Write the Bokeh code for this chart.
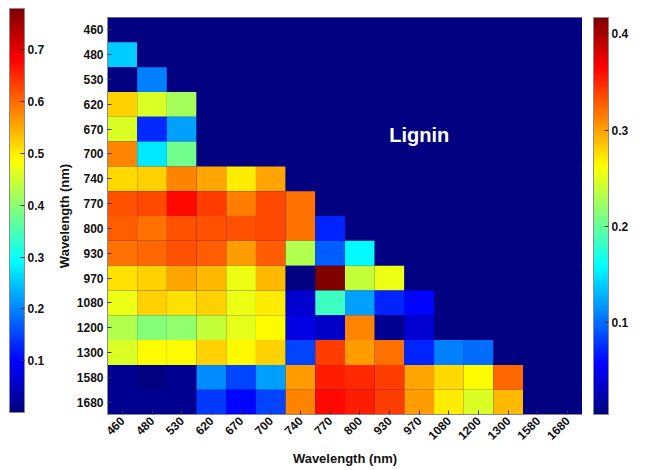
import math
from bokeh.plotting import figure
from bokeh.layouts import row
from bokeh.models import (ColorBar, LinearColorMapper, FixedTicker, FactorRange,
                          ColumnDataSource)
from bokeh.transform import transform
from bokeh.embed import file_html
from bokeh.resources import INLINE
from bokeh.core.properties import value

# ---- data ----
wavelengths = ["460", "480", "530", "620", "670", "700", "740", "770",
               "800", "930", "970", "1080", "1200", "1300", "1580", "1680"]

row_460 = [0, 0, 0, 0, 0, 0, 0, 0, 0, 0, 0, 0, 0, 0, 0, 0]
row_480 = [0.139, 0, 0, 0, 0, 0, 0, 0, 0, 0, 0, 0, 0, 0, 0, 0]
row_530 = [0, 0.109, 0, 0, 0, 0, 0, 0, 0, 0, 0, 0, 0, 0, 0, 0]
row_620 = [0.281, 0.248, 0.227, 0, 0, 0, 0, 0, 0, 0, 0, 0, 0, 0, 0, 0]
row_670 = [0.248, 0.074, 0.122, 0, 0, 0, 0, 0, 0, 0, 0, 0, 0, 0, 0, 0]
row_700 = [0.311, 0.151, 0.206, 0, 0, 0, 0, 0, 0, 0, 0, 0, 0, 0, 0, 0]
row_740 = [0.277, 0.281, 0.311, 0.298, 0.269, 0.298, 0, 0, 0, 0, 0, 0, 0, 0, 0, 0]
row_770 = [0.332, 0.336, 0.361, 0.340, 0.315, 0.336, 0.319, 0, 0, 0, 0, 0, 0, 0, 0, 0]
row_800 = [0.328, 0.319, 0.332, 0.332, 0.332, 0.336, 0.319, 0.071, 0, 0, 0, 0, 0, 0, 0, 0]
row_930 = [0.319, 0.323, 0.332, 0.328, 0.302, 0.328, 0.231, 0.095, 0.158, 0, 0, 0, 0, 0, 0, 0]
row_970 = [0.275, 0.281, 0.298, 0.290, 0.256, 0.290, 0.0, 0.42, 0.239, 0.256, 0, 0, 0, 0, 0, 0]
row_1080 = [0.256, 0.281, 0.275, 0.281, 0.256, 0.269, 0.038, 0.185, 0.122, 0.071, 0.059, 0, 0, 0, 0, 0]
row_1200 = [0.231, 0.214, 0.218, 0.239, 0.252, 0.263, 0.046, 0.034, 0.311, 0.013, 0.038, 0, 0, 0, 0, 0]
row_1300 = [0.248, 0.263, 0.263, 0.281, 0.265, 0.281, 0.084, 0.340, 0.302, 0.319, 0.071, 0.109, 0.101, 0, 0, 0]
row_1580 = [0.013, 0.004, 0.013, 0.113, 0.084, 0.122, 0.302, 0.353, 0.349, 0.340, 0.298, 0.277, 0.263, 0.323, 0, 0]
row_1680 = [0.013, 0.013, 0.013, 0.080, 0.059, 0.084, 0.311, 0.361, 0.353, 0.340, 0.302, 0.269, 0.248, 0.290, 0, 0]

matrix_rows = [row_460, row_480, row_530, row_620, row_670, row_700, row_740, row_770,
               row_800, row_930, row_970, row_1080, row_1200, row_1300, row_1580, row_1680]

left_ticks = [0.1, 0.2, 0.3, 0.4, 0.5, 0.6, 0.7]
right_ticks = [0.1, 0.2, 0.3, 0.4]


# ---- jet colour map ----
def jet_palette(n=256):
    cols = []
    for i in range(n):
        t = i / (n - 1)
        r = min(max(1.5 - abs(4 * t - 3), 0), 1)
        g = min(max(1.5 - abs(4 * t - 2), 0), 1)
        b = min(max(1.5 - abs(4 * t - 1), 0), 1)
        cols.append("#%02x%02x%02x" % (int(round(r * 255)), int(round(g * 255)), int(round(b * 255))))
    return cols


JET = jet_palette()
NAVY = JET[0]

xs, ys, vs = [], [], []
for rlab, rvals in zip(wavelengths, matrix_rows):
    for clab, v in zip(wavelengths, rvals):
        xs.append(clab)
        ys.append(rlab)
        vs.append(v)
src = ColumnDataSource(dict(x=xs, y=ys, v=vs))

mapper = LinearColorMapper(palette=JET, low=0.005, high=0.417)
mapper_left = LinearColorMapper(palette=JET, low=0.0, high=0.78)

FONT = "Liberation Sans"
TXT = "#111111"
EDGE = "#8a8a8a"

# ---- main heat map ----
p = figure(frame_width=475, frame_height=397,
           x_range=FactorRange(*wavelengths),
           y_range=FactorRange(*list(reversed(wavelengths))),
           output_backend="svg", toolbar_location=None,
           min_border_left=107, min_border_right=0,
           min_border_top=17, min_border_bottom=56,
           background_fill_color=NAVY, border_fill_color="#ffffff")

p.rect(x="x", y="y", width=1, height=1, source=src,
       fill_color=transform("v", mapper), line_color=None)

p.text(x=["970"], y=["670"], text=["Lignin"], text_color="white",
       text_font=value(FONT), text_font_style="bold", text_font_size="20px",
       text_align="center", text_baseline="middle", y_offset=6)

p.grid.visible = False
p.outline_line_color = EDGE

for a in (p.xaxis[0], p.yaxis[0]):
    a.axis_line_color = EDGE
    a.major_tick_in = 4
    a.major_tick_out = 0
    a.major_tick_line_color = "#333333"
    a.minor_tick_line_color = None
    a.major_label_text_font = FONT
    a.major_label_text_font_style = "bold"
    a.major_label_text_font_size = "12px"
    a.major_label_text_color = TXT
    a.axis_label = "Wavelength (nm)"
    a.axis_label_text_font = FONT
    a.axis_label_text_font_style = "bold"
    a.axis_label_text_font_size = "13px"
    a.axis_label_text_color = TXT

p.xaxis[0].major_label_orientation = math.pi / 4
p.yaxis[0].major_label_standoff = 4
p.yaxis[0].axis_label_standoff = 2
p.xaxis[0].major_label_standoff = 4
p.xaxis[0].axis_label_standoff = 4


def make_cb(m, ticks, **kw):
    return ColorBar(color_mapper=m, ticker=FixedTicker(ticks=ticks), width=15,
                    padding=0, margin=0, label_standoff=3,
                    major_label_text_font=FONT, major_label_text_font_style="bold",
                    major_label_text_font_size="12px", major_label_text_color=TXT,
                    major_tick_in=4, major_tick_out=0, major_tick_line_color="#333333",
                    bar_line_color=EDGE, border_line_color=None,
                    background_fill_alpha=0, **kw)


# left colour bar: placed relative to the heat-map frame (screen units)
cb_left = make_cb(mapper_left, left_ticks, height=404, location=(-98, 2))
p.add_layout(cb_left, "center")

# right colour bar in its own narrow figure
right_fig = figure(frame_width=11, frame_height=397,
                   x_axis_location=None, y_axis_location=None,
                   output_backend="svg", toolbar_location=None,
                   min_border_left=0, min_border_right=52,
                   min_border_top=17, min_border_bottom=56,
                   background_fill_color="#ffffff", border_fill_color="#ffffff")
right_fig.outline_line_color = None
right_fig.grid.visible = False
right_fig.add_layout(make_cb(mapper, right_ticks), "right")

layout = row(p, right_fig)

open("out.html", "w").write(file_html(layout, INLINE))
